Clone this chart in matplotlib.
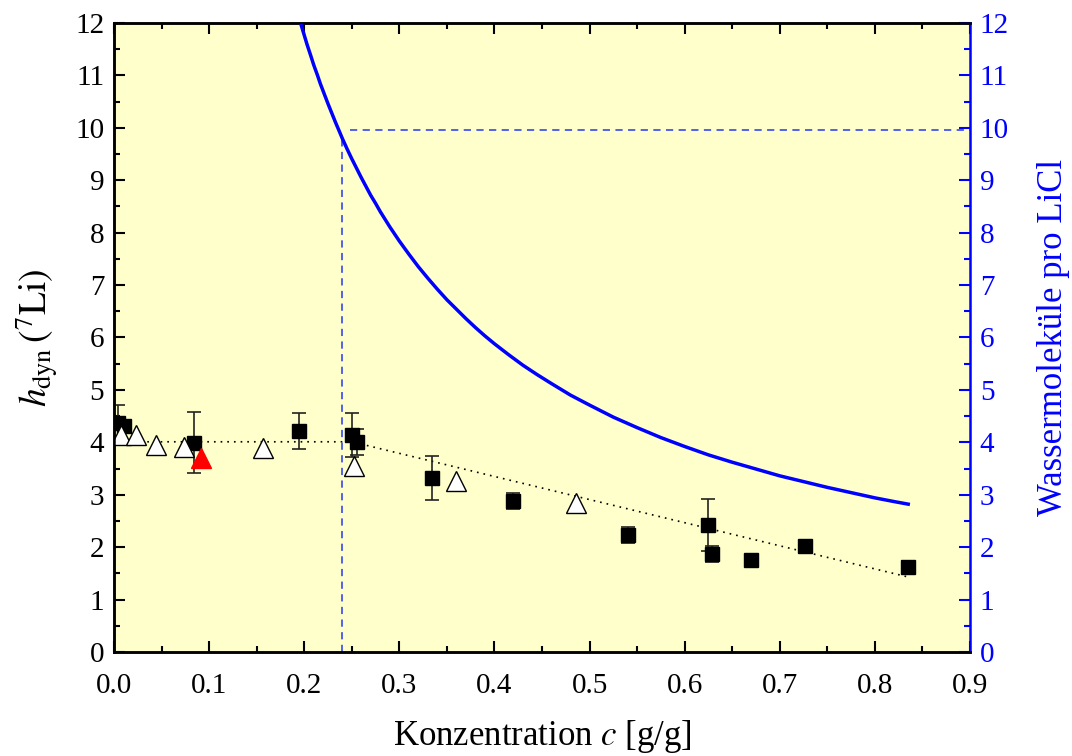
import numpy as np
import matplotlib
matplotlib.use("Agg")
from matplotlib import pyplot as plt
from matplotlib.ticker import MultipleLocator, FormatStrFormatter

plt.rcParams['font.family'] = ['Liberation Serif', 'DejaVu Serif']
plt.rcParams['mathtext.fontset'] = 'stix'

# squares with error bars
sq_c = [0.004, 0.011, 0.084, 0.195, 0.250, 0.256, 0.334, 0.420, 0.540, 0.624, 0.629, 0.670, 0.727, 0.835]
sq_h = [4.37, 4.32, 3.99, 4.22, 4.14, 4.00, 3.32, 2.88, 2.23, 2.42, 1.87, 1.76, 2.03, 1.62]
sq_err = [0.35, 0.10, 0.58, 0.34, 0.42, 0.25, 0.42, 0.15, 0.15, 0.50, 0.15, 0.05, 0.08, 0.12]

# open triangles
tri_c = [0.007, 0.023, 0.044, 0.074, 0.157, 0.252, 0.360, 0.486]
tri_h = [4.14, 4.14, 3.95, 3.92, 3.90, 3.55, 3.26, 2.84]

# red triangle
red_c = [0.091]
red_h = [3.70]

# dotted guide line
guide_c = [0.0, 0.25, 0.835]
guide_h = [4.01, 4.01, 1.43]

# water molecules per LiCl (right axis)
n_c = [0.197, 0.200, 0.203, 0.207, 0.210, 0.214, 0.217, 0.221, 0.225, 0.229, 0.233, 0.237, 0.240,
       0.245, 0.250, 0.255, 0.260, 0.265, 0.270, 0.275, 0.280, 0.290, 0.300, 0.310, 0.320,
       0.330, 0.340, 0.350, 0.360, 0.370, 0.380, 0.390, 0.400, 0.415, 0.430, 0.445, 0.460,
       0.480, 0.500, 0.525, 0.550, 0.575, 0.600, 0.625, 0.650, 0.675, 0.700, 0.725,
       0.750, 0.775, 0.800, 0.820, 0.835]
n_w = [11.95, 11.77, 11.59, 11.37, 11.20, 11.00, 10.84, 10.65, 10.46, 10.28, 10.10, 9.93, 9.80,
       9.60, 9.41, 9.23, 9.05, 8.88, 8.71, 8.56, 8.40, 8.11, 7.84, 7.59, 7.35,
       7.13, 6.92, 6.72, 6.54, 6.36, 6.19, 6.03, 5.88, 5.67, 5.47, 5.29, 5.12,
       4.90, 4.71, 4.48, 4.28, 4.09, 3.92, 3.76, 3.62, 3.49, 3.36, 3.25,
       3.14, 3.04, 2.94, 2.87, 2.82]

# marker lines at c = 0.24
c_mark = 0.24
n_mark = 9.95

fig = plt.figure(figsize=(10.72, 7.56), dpi=100)
ax = fig.add_axes([0.1063, 0.1376, 0.7986, 0.832])
ax.set_facecolor('#FFFFCC')
ax2 = ax.twinx()

ax.plot(guide_c, guide_h, color='black', lw=1.2, linestyle=(0, (1, 3)), zorder=2)
ax.plot([c_mark, c_mark], [0, 9.83], color='#4455EE', lw=1.3, linestyle=(0, (4, 3)), zorder=2)
ax.plot([0.248, 0.9], [n_mark, n_mark], color='#4455EE', lw=1.3, linestyle=(0, (4, 3)), zorder=2)

ax.errorbar(sq_c, sq_h, yerr=sq_err, fmt='s', color='black', ms=10, ecolor='#222222',
            elinewidth=1.2, capsize=5, capthick=1.2, zorder=3)
ax.plot(tri_c, tri_h, '^', ms=14, mfc='white', mec='black', mew=1.0, ls='none', zorder=4)
ax.plot(red_c, red_h, '^', ms=14, mfc='red', mec='red', ls='none', zorder=5)

ax2.plot(n_c, n_w, color='#0000FF', lw=2.5, zorder=3)

ax.set_xlim(0, 0.9)
ax.set_ylim(0, 12)
ax2.set_ylim(0, 12)

ax.xaxis.set_major_locator(MultipleLocator(0.1))
ax.xaxis.set_minor_locator(MultipleLocator(0.05))
ax.yaxis.set_major_locator(MultipleLocator(1))
ax.yaxis.set_minor_locator(MultipleLocator(0.5))
ax2.yaxis.set_major_locator(MultipleLocator(1))
ax2.yaxis.set_minor_locator(MultipleLocator(0.5))
ax.xaxis.set_major_formatter(FormatStrFormatter('%.1f'))

ax.tick_params(axis='both', which='both', direction='in', top=True, right=False, labelsize=21, width=1.5)
ax.tick_params(axis='both', which='major', length=8)
ax.tick_params(axis='both', which='minor', length=4.5)
ax.tick_params(axis='x', pad=15)
ax.tick_params(axis='y', pad=7)
ax2.tick_params(axis='y', which='both', direction='in', colors='#0000FF', labelsize=21, width=1.5, pad=7)
ax2.tick_params(axis='y', which='major', length=8)
ax2.tick_params(axis='y', which='minor', length=4.5)

for s in ['left', 'bottom', 'top']:
    ax.spines[s].set_linewidth(1.8)
    ax2.spines[s].set_linewidth(1.8)
ax.spines['right'].set_visible(False)
ax2.spines['right'].set_color('#0000FF')
ax2.spines['right'].set_linewidth(1.8)

ax.set_xlabel('Konzentration $c$ [g/g]', fontsize=25, labelpad=14)
ax.set_ylabel(r'$h_{\mathrm{dyn}}\,(^{7}\mathrm{Li})$', fontsize=27, labelpad=10)
ax2.set_ylabel('Wassermoleküle pro LiCl', fontsize=25, color='#0000FF', labelpad=20)

fig.savefig('out.png', dpi=100)
